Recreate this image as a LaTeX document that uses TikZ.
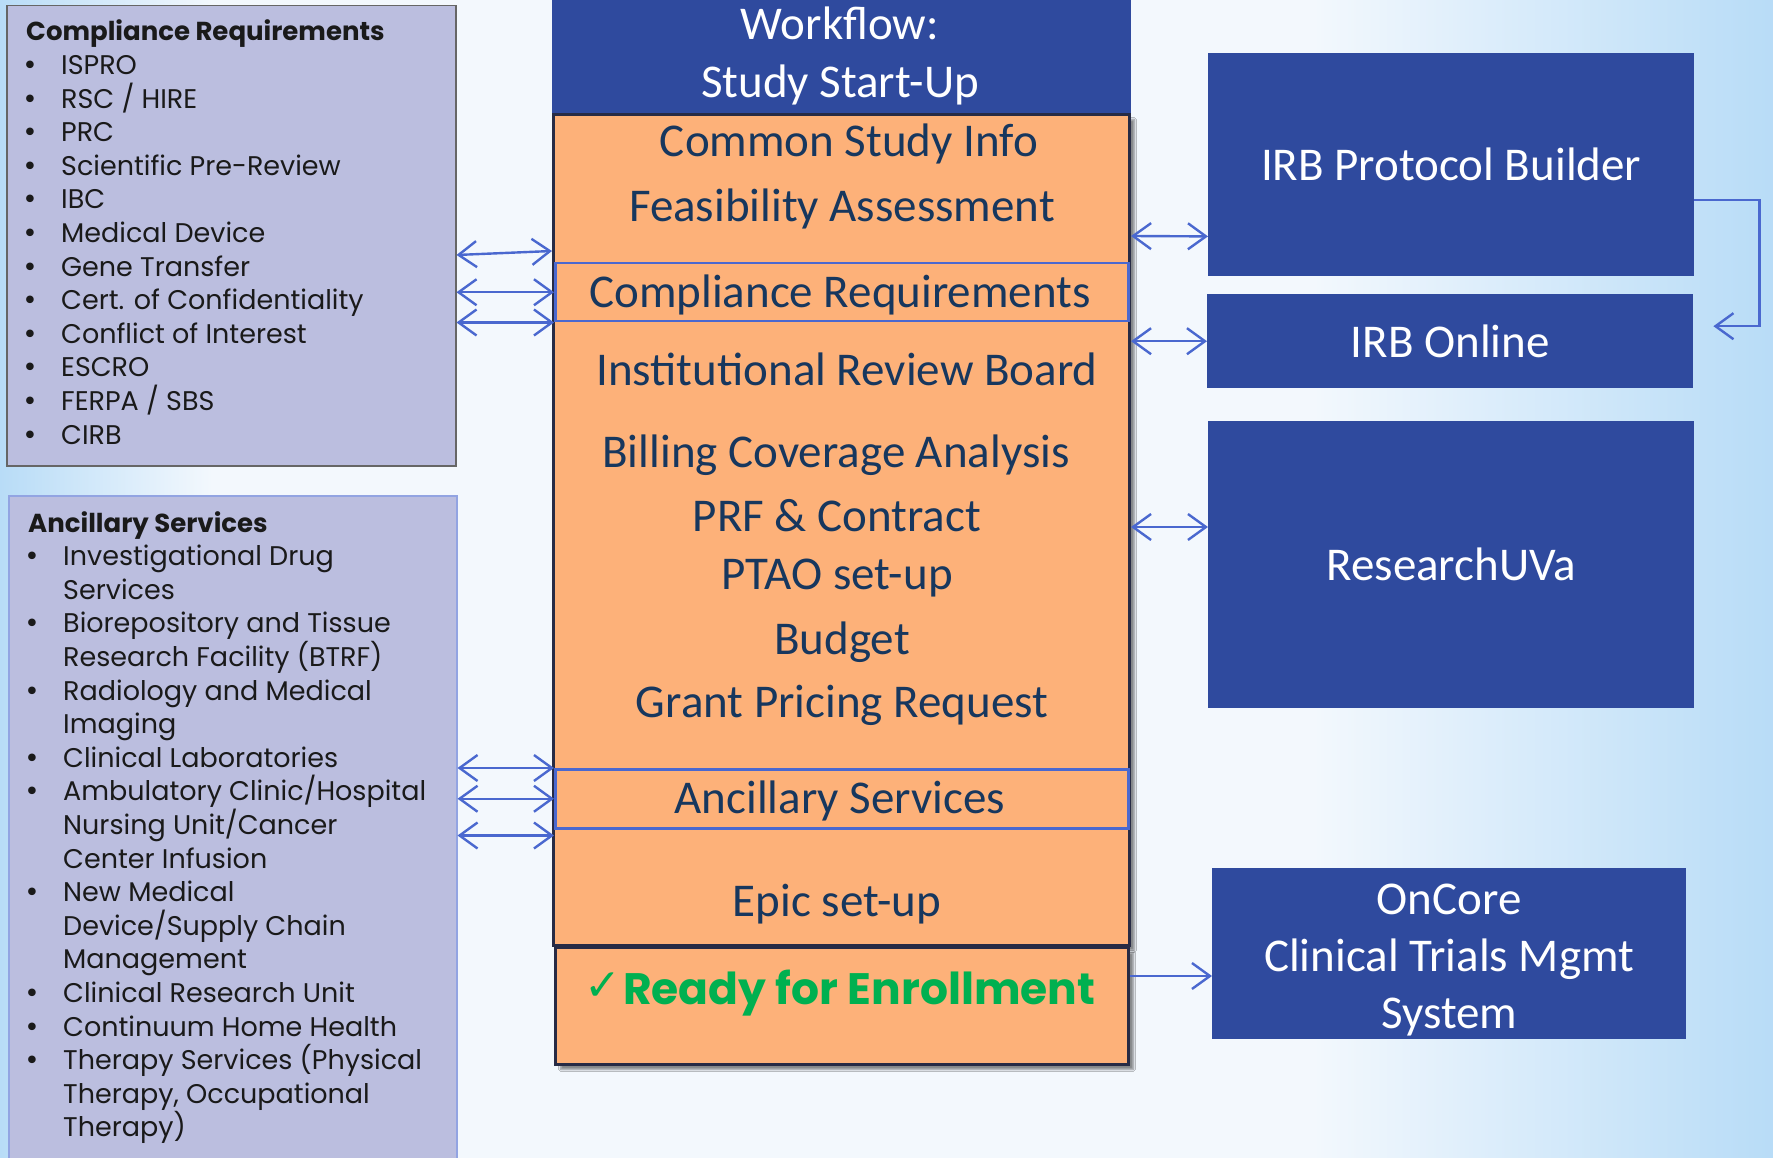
\documentclass[tikz,border=0pt]{standalone}
\usepackage{fontspec}
\setmainfont{Carlito}
\newfontfamily\listfont{Poppins}
\newfontfamily\symfont{DejaVu Sans}
\usetikzlibrary{arrows.meta, positioning, calc, shadows.blur}
\definecolor{bgblue}{HTML}{B8DCF7}
\definecolor{bgwhite}{HTML}{F3F8FD}
\definecolor{lavender}{HTML}{BBBEDF}
\definecolor{navybox}{HTML}{2F4A9E}
\definecolor{peach}{HTML}{FDB179}
\definecolor{stagenavy}{HTML}{17375E}
\definecolor{edgedark}{HTML}{272B45}
\definecolor{linkblue}{HTML}{4A68CF}
\definecolor{readygreen}{HTML}{00B050}
\definecolor{listink}{HTML}{1A1A1A}
% visible part of a TikZ axis shading runs from 25bp to 75bp
\pgfdeclarehorizontalshading{bgshade}{100bp}{color(0bp)=(bgblue); color(25bp)=(bgblue); color(31bp)=(bgwhite); color(62bp)=(bgwhite); color(75bp)=(bgblue); color(100bp)=(bgblue)}

\begin{document}
\begin{tikzpicture}[x=1pt, y=-1pt,
  listbox/.style={fill=lavender, draw=#1, line width=1.5pt, inner sep=0pt, anchor=north west},
  appbox/.style={fill=navybox, text=white, inner sep=0pt, anchor=north west, align=center, font=\fontsize{47}{57}\selectfont},
  stagebox/.style={fill=peach, draw=edgedark, line width=3pt, inner sep=0pt, anchor=north west,
    blur shadow={shadow xshift=5pt, shadow yshift=-5pt, shadow blur steps=6, shadow opacity=45}},
  hilite/.style={draw=linkblue, line width=2.5pt, inner sep=0pt, anchor=north west},
  stagetext/.style={text=stagenavy, anchor=base, inner sep=0pt, font=\fontsize{47}{57}\selectfont},
  headtext/.style={stagetext, text=white},
  listtext/.style={anchor=base west, inner sep=0pt, text=listink, font=\listfont\fontsize{27}{30}\selectfont},
  listhead/.style={listtext, font=\listfont\bfseries\fontsize{26}{30}\selectfont},
  bulletmark/.style={anchor=base, inner sep=0pt, text=listink, font=\symfont\fontsize{26}{30}\selectfont},
  twoway/.style={draw=linkblue, line width=2.4pt, {Straight Barb[length=18pt,width=26pt]}-{Straight Barb[length=18pt,width=26pt]}},
  oneway/.style={draw=linkblue, line width=2.4pt, -{Straight Barb[length=18pt,width=26pt]}}]

  % Background
  \useasboundingbox (0,0) rectangle (1773,1158);
  \shade[shading=bgshade] (0,0) rectangle (1773,1158);

  % Left lists
  \node[listbox=black!60, minimum width=449, minimum height=460] (compbox) at (6,5) {};
  \node[listbox=linkblue!60, minimum width=448, minimum height=680] (ancbox) at (8,495) {};

  \node[listhead] (crhead) at (26,41) {Compliance Requirements};
  \foreach \txt [count=\i] in {ISPRO, RSC / HIRE, PRC, Scientific Pre-Review, IBC, Medical Device,
      Gene Transfer, Cert. of Confidentiality, Conflict of Interest, ESCRO, FERPA / SBS, CIRB} {
    \node[bulletmark] (crdot\i) at (30, 41+33.6*\i) {•};
    \node[listtext] (cr\i) at (61, 41+33.6*\i) {\txt};
  }

  \node[listhead] (ashead) at (28,532) {Ancillary Services};
  \foreach \b/\txt [count=\i] in {1/Investigational Drug, 0/Services, 1/Biorepository and Tissue,
      0/Research Facility (BTRF), 1/Radiology and Medical, 0/Imaging, 1/Clinical Laboratories,
      1/{Ambulatory Clinic/Hospital}, 0/{Nursing Unit/Cancer}, 0/Center Infusion, 1/New Medical,
      0/{Device/Supply Chain}, 0/Management, 1/Clinical Research Unit, 1/Continuum Home Health,
      1/Therapy Services (Physical, 0/{Therapy, Occupational}, 0/Therapy)} {
    \ifnum\b=1 \node[bulletmark] (asdot\i) at (32, 532+33.6*\i) {•}; \fi
    \node[listtext] (as\i) at (63, 532+33.6*\i) {\txt};
  }

  % Workflow column
  \node[stagebox, minimum width=576, minimum height=831] (stages) at (552,113) {};
  \node[hilite, minimum width=573, minimum height=58] (comphl) at (554,262) {};
  \node[hilite, minimum width=573, minimum height=59] (anchl) at (554,768) {};
  \node[appbox, minimum width=579, minimum height=120] (header) at (552,-7) {};
  \node[headtext] (wf1) at (840,40) {Workflow:};
  \node[headtext] (wf2) at (840,98) {Study Start-Up};

  \foreach \txt/\xx/\yy [count=\i] in {Common Study Info/849/157, Feasibility Assessment/842/222,
      Compliance Requirements/840/308, Institutional Review Board/847/385,
      Billing Coverage Analysis/836/467, PRF \& Contract/837/531, PTAO set-up/837/589,
      Budget/842/654, Grant Pricing Request/842/717, Ancillary Services/840/813,
      Epic set-up/837/916}
    \node[stagetext] (step\i) at (\xx,\yy) {\txt};

  \node[stagebox, minimum width=573, minimum height=117] (ready) at (554,946) {};
  \node[anchor=base west, inner sep=0pt, text=readygreen, font=\symfont\fontsize{44}{44}\selectfont] (readymark) at (584,1000) {✓};
  \node[anchor=base west, inner sep=0pt, text=readygreen, font=\listfont\bfseries\fontsize{44}{50}\selectfont] (readylbl) at (623,1004) {Ready for Enrollment};

  % Systems
  \node[appbox, minimum width=486, minimum height=223] (irbpb) at (1208,53) {IRB Protocol Builder};
  \node[appbox, minimum width=486, minimum height=94] (irbol) at (1207,294) {IRB Online};
  \node[appbox, minimum width=486, minimum height=287] (ruva) at (1208,421) {ResearchUVa};
  \node[appbox, minimum width=474, minimum height=171] (oncore) at (1212,868) {};
  \node[align=center, text=white, inner sep=0pt, font=\fontsize{47}{57}\selectfont] (oncorelbl)
    at ($(oncore.center)+(0,6)$) {OnCore\\Clinical Trials Mgmt\\System};

  % Links
  \draw[twoway] ($(compbox.north east)+(0,250)$) -- ($(stages.north west)+(0,138)$);
  \draw[twoway] (compbox.east |- comphl.west) -- (comphl.west);
  \draw[twoway] (compbox.east |- comphl.south west) -- (comphl.south west);
  \draw[twoway] (ancbox.east |- anchl.north west) -- (anchl.north west);
  \draw[twoway] (ancbox.east |- anchl.west) -- (anchl.west);
  \draw[twoway] ($(ancbox.east |- anchl.south west)+(0,6)$) -- ($(anchl.south west)+(0,6)$);

  \draw[twoway] ($(stages.north east)+(0,123)$) -- ($(irbpb.south west)+(0,-40)$);
  \draw[twoway] (stages.east |- irbol.west) -- (irbol.west);
  \draw[twoway] ($(stages.east |- ruva.north west)+(0,106)$) -- ($(ruva.north west)+(0,106)$);
  \draw[oneway] ($(ready.east |- oncore.north west)+(0,108)$) -- ($(oncore.north west)+(0,108)$);
  \draw[oneway] ($(irbpb.north east)+(0,147)$) -- ++(65,0) |- ($(irbol.east)+(20,-15)$);
\end{tikzpicture}
\end{document}
